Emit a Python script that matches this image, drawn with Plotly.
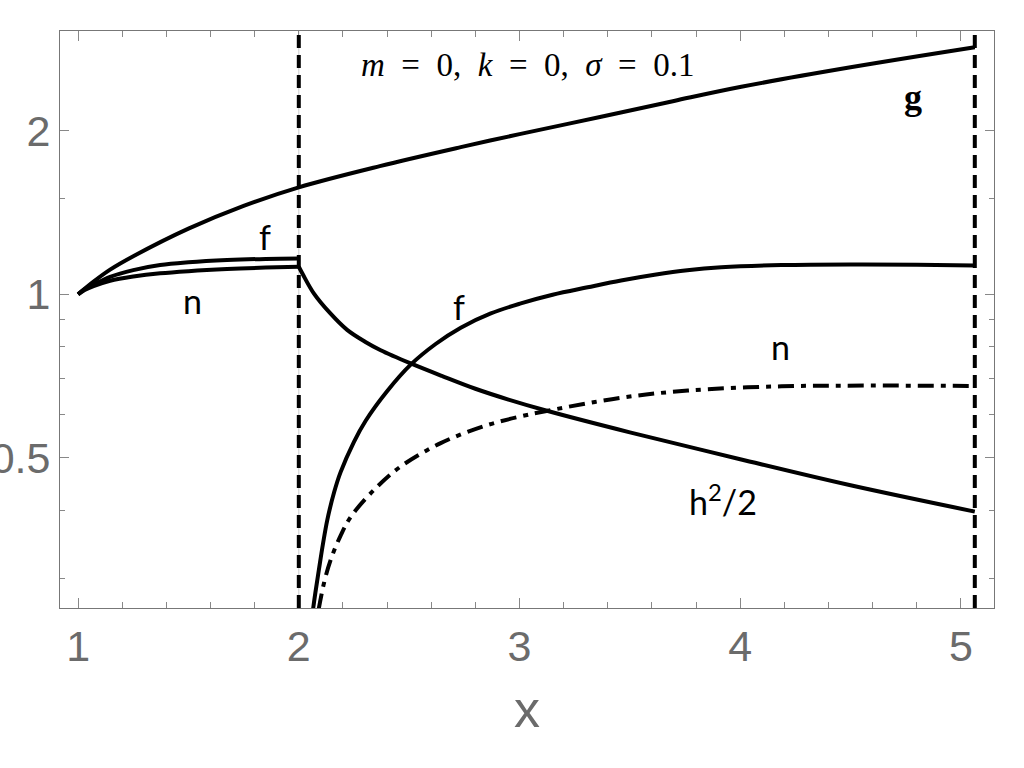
import math
import plotly.graph_objects as go

# curve readings (log-scaled y)
g_x = [1.0, 1.07, 1.145, 1.25, 1.5, 1.75, 2.0, 2.367, 2.734, 3.0, 3.37, 3.7, 4.005, 4.5, 5.063]
g_y = [1.0, 1.055, 1.11, 1.175, 1.321, 1.455, 1.574, 1.722, 1.866, 1.972, 2.123, 2.27, 2.41, 2.618, 2.85]

f_left_x = [1.0, 1.03, 1.07, 1.145, 1.25, 1.372, 1.5, 1.675, 1.85, 2.0]
f_left_y = [1.0, 1.022, 1.042, 1.077, 1.108, 1.132, 1.145, 1.156, 1.162, 1.164]

n_left_x = [1.0, 1.03, 1.07, 1.145, 1.25, 1.372, 1.5, 1.675, 1.85, 2.0]
n_left_y = [1.0, 1.018, 1.035, 1.059, 1.078, 1.093, 1.103, 1.113, 1.12, 1.124]

h_x = [2.0, 2.02, 2.068, 2.14, 2.219, 2.3, 2.371, 2.507, 2.65, 2.8, 2.95, 3.12, 3.5, 4.0, 4.5, 5.063]
h_y = [1.124, 1.085, 1.004, 0.925, 0.86, 0.818, 0.789, 0.746, 0.707, 0.67, 0.64, 0.611, 0.557, 0.497, 0.445, 0.398]

f_right_x = [2.064, 2.075, 2.091, 2.11, 2.129, 2.16, 2.189, 2.25, 2.303, 2.4, 2.507, 2.62, 2.734, 2.87, 3.006, 3.15, 3.309, 3.46, 3.612, 3.76, 3.914, 4.187, 4.5, 4.8, 5.063]
f_right_y = [0.262, 0.282, 0.311, 0.348, 0.384, 0.432, 0.47, 0.535, 0.585, 0.663, 0.742, 0.81, 0.868, 0.922, 0.962, 0.998, 1.03, 1.06, 1.086, 1.107, 1.121, 1.132, 1.135, 1.133, 1.13]

n_right_x = [2.09, 2.115, 2.144, 2.19, 2.235, 2.34, 2.462, 2.643, 2.84, 3.006, 3.142, 3.46, 3.763, 4.187, 4.6, 5.063]
n_right_y = [0.263, 0.295, 0.324, 0.36, 0.389, 0.436, 0.482, 0.532, 0.572, 0.596, 0.612, 0.645, 0.665, 0.677, 0.679, 0.678]

boundaries = [2.0, 5.063]

x_ticks = [1, 2, 3, 4, 5]
y_ticks = [0.5, 1, 2]
y_minor = [0.3, 0.4, 0.6, 0.7, 0.8, 0.9, 1.5]

# curve labels: text, x, y (data units)
labels = [
    ("f", 1.848, 1.28),
    ("n", 1.517, 0.976),
    ("f", 2.728, 0.948),
    ("n", 4.184, 0.80),
    ("h<sup>2</sup>/2", 3.921, 0.418),
]

GRAY = "#6b6b6b"
LW = 4

fig = go.Figure()

def curve(x, y, dash="solid"):
    fig.add_trace(go.Scatter(
        x=x, y=y, mode="lines",
        line=dict(color="black", width=LW, dash=dash, shape="spline", smoothing=1.0),
        showlegend=False, hoverinfo="skip"))

# light grid line behind the left boundary
fig.add_shape(type="line", x0=boundaries[0], x1=boundaries[0], y0=0, y1=1,
              xref="x", yref="paper", line=dict(color="#cccccc", width=1), layer="below")

curve(g_x, g_y)
curve(f_left_x, f_left_y)
curve(n_left_x, n_left_y)
curve(h_x, h_y)
curve(f_right_x, f_right_y)
curve(n_right_x, n_right_y, dash="16px,7px,5px,7px")

for b in boundaries:
    fig.add_shape(type="line", x0=b, x1=b, y0=0, y1=1, xref="x", yref="paper",
                  line=dict(color="black", width=4, dash="13px,7px"))

lab = dict(family="Lato, Open Sans, sans-serif", size=34, color="black")
for txt, lx, ly in labels:
    # annotation y on a log axis is given in log10 units
    fig.add_annotation(x=lx, y=math.log10(ly), text=txt, showarrow=False, font=lab,
                       xanchor="center", yanchor="middle")

fig.add_annotation(x=4.782, y=math.log10(2.31), text="<b>g</b>", showarrow=False,
                   font=dict(family="Liberation Serif, serif", size=36, color="black"))
sp = "&nbsp;&nbsp;"
fig.add_annotation(x=3.036, y=math.log10(2.64),
                   text=f"<i>m</i>{sp}={sp}0,{sp}<i>k</i>{sp}={sp}0,{sp}<i>σ</i>{sp}={sp}0.1",
                   showarrow=False,
                   font=dict(family="Liberation Serif, serif", size=33, color="black"))

axis_common = dict(showline=True, linecolor="#777777", linewidth=1, mirror="ticks",
                   ticks="inside", tickcolor="#888888", tickwidth=1,
                   showgrid=False, zeroline=False,
                   tickfont=dict(family="Liberation Sans, Arial, sans-serif", size=43, color=GRAY))

fig.update_xaxes(range=[0.918, 5.15], tickmode="array", tickvals=x_ticks, ticklen=10,
                 minor=dict(dtick=0.2, tick0=0, ticklen=6, ticks="inside", tickcolor="#888888"),
                 title=dict(text="x", font=dict(family="Liberation Sans, Arial, sans-serif", size=52, color=GRAY),
                            standoff=22),
                 automargin=False, **axis_common)
fig.update_yaxes(type="log", range=[-0.5776, 0.4848], tickmode="array", tickvals=y_ticks,
                 ticktext=["0.5", "1", "2"], ticklen=9,
                 minor=dict(tickmode="array", tickvals=y_minor, ticklen=5, ticks="inside", tickcolor="#888888"),
                 automargin=False, **axis_common)

fig.update_layout(width=1024, height=768, plot_bgcolor="white", paper_bgcolor="white",
                  margin=dict(l=60, r=30, t=31, b=160, autoexpand=False))

fig.write_html("out.html", config={"displayModeBar": False},
               post_script="document.body.style.margin='0';")
